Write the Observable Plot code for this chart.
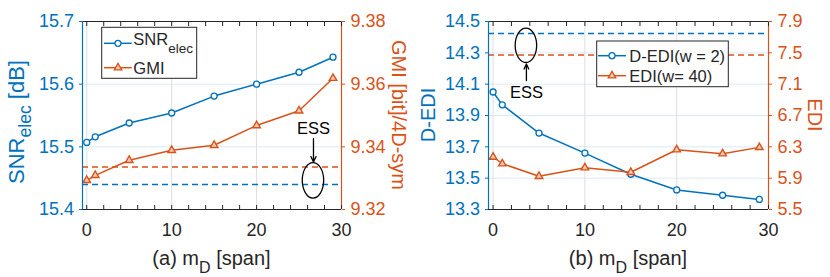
<!DOCTYPE html>
<html><head><meta charset="utf-8">
<script src="https://cdn.jsdelivr.net/npm/d3@7"></script>
<script src="https://cdn.jsdelivr.net/npm/@observablehq/plot@0.6"></script>
<style>
body{margin:0;background:#fff;}
#wrap{width:830px;height:277px;display:flex;}
#wrap svg{display:block;flex:none;}
</style></head><body><div id="wrap"></div>
<script>
// ---- data ----
const mD = [0, 1, 5, 10, 15, 20, 25, 29];
const snrElec = [15.507, 15.516, 15.538, 15.554, 15.581, 15.600, 15.619, 15.643];
const gmi = [9.3293, 9.3309, 9.3357, 9.3389, 9.3405, 9.3468, 9.3515, 9.3619];
const dEdi = [14.050, 13.968, 13.788, 13.660, 13.525, 13.425, 13.391, 13.364];
const edi = [6.170, 6.085, 5.924, 6.034, 5.975, 6.263, 6.212, 6.293];
const essSnr = 15.44, essGmi = 9.3336, essDEdi = 14.424, essEdi = 7.472;

const xTicks = [0, 10, 20, 30];
const xMinorTicks = [0, 2, 4, 6, 8, 10, 12, 14, 16, 18, 20, 22, 24, 26, 28, 30];
const snrTicks = [15.4, 15.5, 15.6, 15.7];
const gmiTicks = [9.32, 9.34, 9.36, 9.38];
const dEdiTicks = [13.3, 13.5, 13.7, 13.9, 14.1, 14.3, 14.5];
const ediTicks = [5.5, 5.9, 6.3, 6.7, 7.1, 7.5, 7.9];

// ESS annotations (data units)
const essA = {x: 26.7, text: 15.529, tail: 15.513, tip: 15.4757, cy: 15.4458, rx: 1.26, ry: 0.0283};
const essB = {x: 3.63, text: 14.045, tail: 14.123, tip: 14.229, cy: 14.345, rx: 1.17, ry: 0.110};

const BLUE = "#0072BD", ORANGE = "#D95319", DARK = "#262626";
const FONT = "'Liberation Sans', Arial, sans-serif";
const W = 415, H = 277, MT = 21, MB = 68;
const xDom = [-0.5, 30];
const TRI_R = 2.8, CIRC_R = 3;

function makePanel(o) {
  const toL = d3.scaleLinear(o.rDomain, o.yDomain);
  const rows = mD.map((x, i) => ({x, l: o.left[i], r: toL(o.right[i])}));
  const dash = {strokeWidth: 1.5, strokeDasharray: "6,4"};
  const svg = Plot.plot({
    width: W, height: H,
    marginLeft: o.ml, marginRight: o.mr, marginTop: MT, marginBottom: MB,
    style: {fontFamily: FONT, background: "white", overflow: "visible"},
    x: {domain: xDom},
    y: {domain: o.yDomain},
    marks: [
      Plot.gridY(o.yTicks, {stroke: "#d9eaf5", strokeOpacity: 1}),
      Plot.gridX(xTicks, {stroke: "#dedede", strokeOpacity: 1}),
      Plot.ruleY([o.essL], {stroke: BLUE, ...dash}),
      Plot.ruleY([toL(o.essR)], {stroke: ORANGE, ...dash}),
      Plot.line(rows, {x: "x", y: "l", stroke: BLUE, strokeWidth: 1.5}),
      Plot.dot(rows, {x: "x", y: "l", r: CIRC_R, stroke: BLUE, strokeWidth: 1.3, fill: "white"}),
      Plot.line(rows, {x: "x", y: "r", stroke: ORANGE, strokeWidth: 1.5}),
      Plot.dot(rows, {x: "x", y: "r", r: TRI_R, symbol: "triangle", stroke: ORANGE, strokeWidth: 1.4, fill: "#f3c9b6"}),
      Plot.ruleY([o.yDomain[1]], {stroke: DARK, strokeWidth: 1.2}),
      Plot.ruleY([o.yDomain[0]], {stroke: DARK, strokeWidth: 1.2}),
      Plot.ruleX([xDom[0]], {stroke: BLUE, strokeWidth: 1.2}),
      Plot.ruleX([xDom[1]], {stroke: ORANGE, strokeWidth: 1.2}),
      Plot.axisX(xMinorTicks, {anchor: "bottom", tickSize: -4, tickFormat: () => "", color: DARK, label: null}),
      Plot.axisX(xMinorTicks, {anchor: "top", tickSize: -4, tickFormat: () => "", color: DARK, label: null}),
      Plot.axisX(xTicks, {anchor: "bottom", tickSize: 0, tickPadding: 14, fontSize: 18, color: DARK, label: null}),
      Plot.axisY(o.yTicks, {anchor: "left", tickSize: 3, tickPadding: 5.5, fontSize: 18, color: BLUE, tickFormat: d3.format(o.yFmt), label: null}),
      Plot.axisY(o.rTicks.map(toL), {anchor: "right", tickSize: 3, tickPadding: 6, fontSize: 18, color: ORANGE, tickFormat: d => d3.format(o.rFmt)(toL.invert(d)), label: null}),
      Plot.arrow([o.ess], {x1: "x", x2: "x", y1: "tail", y2: "tip", stroke: "black", strokeWidth: 1.3, headLength: 7, headAngle: 50}),
      Plot.text([o.ess], {x: "x", y: "text", text: () => "ESS", fontSize: 16.5, fill: "black"})
    ]
  });

  const sx = d3.scaleLinear(xDom, [o.ml, W - o.mr]);
  const sy = d3.scaleLinear(o.yDomain, [H - MB, MT]);
  const g = d3.select(svg).append("g").attr("font-family", FONT);

  // ESS ellipse
  g.append("ellipse")
    .attr("cx", sx(o.ess.x)).attr("cy", sy(o.ess.cy))
    .attr("rx", sx(o.ess.x + o.ess.rx) - sx(o.ess.x))
    .attr("ry", sy(o.ess.cy - o.ess.ry) - sy(o.ess.cy))
    .attr("fill", "none").attr("stroke", "black").attr("stroke-width", 1.3);

  // x label
  const xl = g.append("text").attr("x", (o.ml + W - o.mr) / 2).attr("y", 265)
    .attr("text-anchor", "middle").attr("font-size", 20).attr("fill", DARK);
  xl.append("tspan").text(o.xlab + " m");
  xl.append("tspan").attr("font-size", 16).attr("dy", 8).text("D");
  xl.append("tspan").attr("dy", -8).text(" [span]");

  // left y label
  const yl = g.append("text").attr("transform", `translate(${o.ylabX},${o.ylabY}) rotate(-90)`)
    .attr("text-anchor", "middle").attr("font-size", o.ylabSize).attr("fill", BLUE);
  o.ylab.forEach(p => {
    const t = yl.append("tspan").text(p.t);
    if (p.sub) t.attr("font-size", o.ylabSize * 0.8).attr("dy", 7);
    if (p.after) t.attr("dy", -7);
  });
  // right y label
  g.append("text").attr("transform", `translate(${o.rlabX},115) rotate(90)`)
    .attr("text-anchor", "middle").attr("font-size", 20).attr("fill", ORANGE).text(o.rlab);

  // legend
  const L = o.legend;
  g.append("rect").attr("x", L.box[0]).attr("y", L.box[1])
    .attr("width", L.box[2] - L.box[0]).attr("height", L.box[3] - L.box[1])
    .attr("fill", "white").attr("stroke", DARK).attr("stroke-width", 1);
  L.rows.forEach(r => {
    g.append("line").attr("x1", L.line[0]).attr("x2", L.line[1]).attr("y1", r.y).attr("y2", r.y)
      .attr("stroke", r.color).attr("stroke-width", 1.5);
    const rr = r.tri ? TRI_R : CIRC_R;
    const size = Math.PI * rr * rr;
    g.append("path").attr("d", d3.symbol(r.tri ? d3.symbolTriangle : d3.symbolCircle, size)())
      .attr("transform", `translate(${L.mark},${r.y})`)
      .attr("fill", r.tri ? "#f3c9b6" : "white").attr("stroke", r.color).attr("stroke-width", 1.3);
    const t = g.append("text").attr("x", L.text).attr("y", r.y + r.base)
      .attr("text-anchor", "start").attr("font-size", 16.5).attr("fill", DARK);
    r.parts.forEach(p => {
      const s = t.append("tspan").text(p.t);
      if (p.sub) s.attr("font-size", 13.5).attr("dy", 8);
    });
  });
  return svg;
}

const wrap = document.getElementById("wrap");
wrap.appendChild(makePanel({
  ml: 82, mr: 74,
  yDomain: [15.4, 15.7], yTicks: snrTicks, yFmt: ".1f",
  rDomain: [9.32, 9.38], rTicks: gmiTicks, rFmt: ".2f",
  left: snrElec, right: gmi, essL: essSnr, essR: essGmi, ess: essA,
  xlab: "(a)",
  ylab: [{t: "SNR"}, {t: "elec", sub: true}, {t: " [dB]", after: true}], ylabX: 24, ylabY: 122, ylabSize: 22,
  rlab: "GMI [bit]/4D-sym", rlabX: 392,
  legend: {box: [101.7, 27.3, 196.7, 78.3], line: [104, 131.7], mark: 118, text: 133.3,
    rows: [
      {y: 43.3, base: 2, color: BLUE, parts: [{t: "SNR"}, {t: "elec", sub: true}]},
      {y: 67.7, base: 6, color: ORANGE, tri: true, parts: [{t: "GMI"}]}
    ]}
}));
wrap.appendChild(makePanel({
  ml: 73, mr: 62,
  yDomain: [13.3, 14.5], yTicks: dEdiTicks, yFmt: ".1f",
  rDomain: [5.5, 7.9], rTicks: ediTicks, rFmt: ".1f",
  left: dEdi, right: edi, essL: essDEdi, essR: essEdi, ess: essB,
  xlab: "(b)",
  ylab: [{t: "D-EDI"}], ylabX: 20, ylabY: 115, ylabSize: 20,
  rlab: "EDI", rlabX: 393,
  legend: {box: [181.7, 41, 313.3, 86.7], line: [183, 211], mark: 197, text: 214.3,
    rows: [
      {y: 55.7, base: 6, color: BLUE, parts: [{t: "D-EDI(w = 2)"}]},
      {y: 75.7, base: 6, color: ORANGE, tri: true, parts: [{t: "EDI(w= 40)"}]}
    ]}
}));
</script></body></html>
